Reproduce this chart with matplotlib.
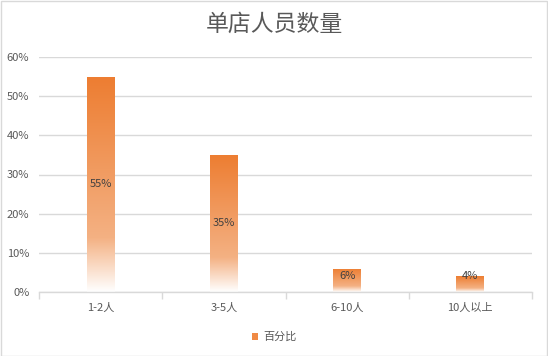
import numpy as np
import matplotlib
matplotlib.use('Agg')
from matplotlib import pyplot as plt
from matplotlib.colors import LinearSegmentedColormap
from matplotlib.patches import Rectangle

plt.rcParams['font.family'] = ['Noto Sans CJK SC', 'DejaVu Sans']

title = '单店人员数量'
categories = ['1-2人', '3-5人', '6-10人', '10人以上']
values = [55, 35, 6, 4]
series_name = '百分比'
yticks = [0, 10, 20, 30, 40, 50, 60]

text_color = '#595959'
grid_color = '#d9d9d9'

# top -> bottom gradient, like the office fill
grad = LinearSegmentedColormap.from_list(
    'bar_grad', [(0.0, '#ED7D31'), (0.75, '#F4B183'), (1.0, '#FFFFFF')])

fig = plt.figure(figsize=(5.48, 3.56), dpi=100)
fig.patches.append(Rectangle((0.001, 0.001), 0.997, 0.996, transform=fig.transFigure,
                             fill=False, edgecolor='#d9d9d9', linewidth=1))
ax = fig.add_axes([39 / 548, 64 / 356, 493 / 548, 235 / 356])

x = np.arange(len(categories))
bars = ax.bar(x, values, width=0.227, color='none', edgecolor='none', zorder=2)

g = np.linspace(0, 1, 256).reshape(-1, 1)
for b in bars:
    x0, w, h = b.get_x(), b.get_width(), b.get_height()
    im = ax.imshow(g, cmap=grad, aspect='auto', extent=[x0, x0 + w, 0, h],
                   origin='upper', zorder=2, interpolation='bilinear')
    im.set_clip_path(b)

# labels sit mid-bar, but not lower than ~4% on the short bars
for xi, v in zip(x, values):
    ax.text(xi, max(v / 2, 4), '%d%%' % v, ha='center', va='center', fontsize=8,
            color='#404040', zorder=3)

ax.set_xlim(-0.5, len(categories) - 0.5)
ax.set_ylim(0, 60)
ax.set_yticks(yticks)
ax.set_yticklabels(['%d%%' % t for t in yticks])
ax.set_xticks(x)
ax.set_xticklabels(categories)
ax.set_xticks(np.arange(len(categories) + 1) - 0.5, minor=True)
ax.tick_params(axis='x', which='major', length=0, pad=8, labelsize=8, labelcolor=text_color)
ax.tick_params(axis='x', which='minor', length=5, color=grid_color, width=1)
ax.tick_params(axis='y', length=0, pad=7, labelsize=8, labelcolor=text_color)
ax.grid(axis='y', color=grid_color, linewidth=1, zorder=0)
ax.set_axisbelow(True)
for s in ['top', 'right', 'left']:
    ax.spines[s].set_visible(False)
ax.spines['bottom'].set_color(grid_color)
ax.spines['bottom'].set_linewidth(1)

fig.text(0.5, 1 - 24 / 356, title, ha='center', va='center', fontsize=16.5,
         color=text_color)

handle = Rectangle((0, 0), 1, 1, facecolor='#F08A45', edgecolor='none')
fig.legend([handle], [series_name], loc='center', bbox_to_anchor=(0.5, 1 - 337 / 356),
           frameon=False, fontsize=8, labelcolor=text_color, handlelength=0.6,
           handleheight=0.6, handletextpad=0.4)

fig.savefig('out.png', dpi=100)
